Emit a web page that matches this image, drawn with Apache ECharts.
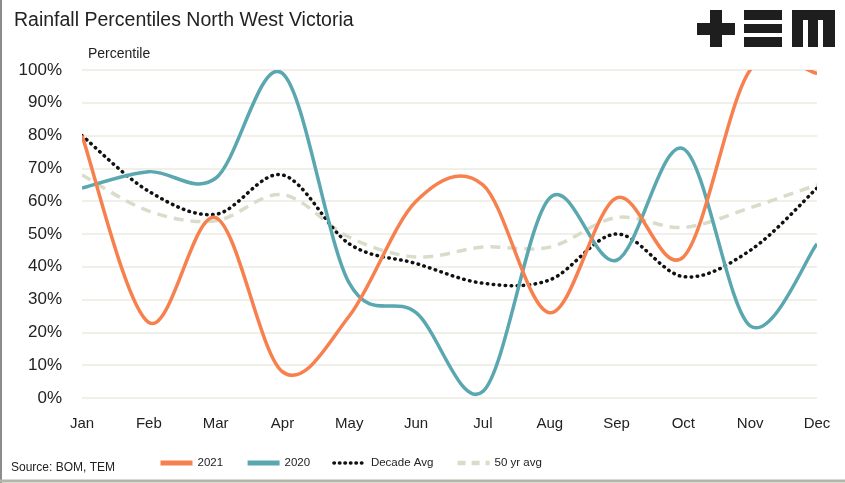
<!DOCTYPE html>
<html>
<head>
<meta charset="utf-8">
<script src="https://cdn.jsdelivr.net/npm/echarts@6/dist/echarts.min.js"></script>
<style>
html,body{margin:0;padding:0;background:#fff;}
#main{width:845px;height:483px;}
</style>
</head>
<body>
<div id="main"></div>
<script>
var months = ['Jan','Feb','Mar','Apr','May','Jun','Jul','Aug','Sep','Oct','Nov','Dec'];
var rain2021 = [80, 23, 55, 8, 25, 60, 65, 26, 61, 43, 100, 99];
var rain2020 = [64, 69, 67, 99, 35, 26, 2, 61, 42, 76, 22, 47];
var decadeAvg = [80, 63, 56, 68, 47, 41, 35, 36, 50, 37, 45, 64];
var fiftyYrAvg = [68, 57, 54, 62, 49, 43, 46, 46, 55, 52, 58, 65];

var font = '"Liberation Sans", sans-serif';
var myChart = echarts.init(document.getElementById('main'));

// excel style smoothed line (catmull-rom as bezier), positioned via the axes
function smoothCurve(name, values, style, z) {
    return {
        name: name, type: 'custom', z: z, silent: true, clip: true,
        data: values.map(function (v, i) { return [i, v]; }),
        renderItem: function (params, api) {
            if (params.dataIndex !== 0) return null;
            var pts = values.map(function (v, i) { return api.coord([i, v]); });
            var d = 'M' + pts[0][0] + ' ' + pts[0][1];
            for (var i = 0; i < pts.length - 1; i++) {
                var p0 = pts[Math.max(i - 1, 0)], p1 = pts[i], p2 = pts[i + 1], p3 = pts[Math.min(i + 2, pts.length - 1)];
                var c1x = p1[0] + (p2[0] - p0[0]) / 6, c1y = p1[1] + (p2[1] - p0[1]) / 6;
                var c2x = p2[0] - (p3[0] - p1[0]) / 6, c2y = p2[1] - (p3[1] - p1[1]) / 6;
                d += ' C' + c1x + ' ' + c1y + ' ' + c2x + ' ' + c2y + ' ' + p2[0] + ' ' + p2[1];
            }
            return {
                type: 'path',
                shape: { pathData: d },
                style: Object.assign({ fill: 'none' }, style)
            };
        }
    };
}

// empty line series only feed the legend icons
function legendLine(name, lineStyle) {
    return { name: name, type: 'line', data: [], symbol: 'none', lineStyle: lineStyle, itemStyle: { color: lineStyle.color } };
}

var option = {
    backgroundColor: '#fff',
    animation: false,
    textStyle: { fontFamily: font },
    title: {
        text: 'Rainfall Percentiles North West Victoria',
        left: 9, top: 6,
        textStyle: { fontSize: 19.5, fontWeight: 'normal', color: '#222', fontFamily: font }
    },
    grid: { left: 82, right: 28, top: 70, bottom: 85 },
    legend: {
        bottom: 9, left: 153,
        itemWidth: 32, itemHeight: 8, itemGap: 22,
        itemStyle: { opacity: 0 },
        textStyle: { fontSize: 11.5, color: '#222' },
        data: [
            { name: '2021', lineStyle: { width: 5 } },
            { name: '2020', lineStyle: { width: 5 } },
            { name: 'Decade Avg', lineStyle: { width: 3.5 } },
            { name: '50 yr avg', lineStyle: { width: 4.5 } }
        ]
    },
    xAxis: {
        type: 'category',
        data: months,
        boundaryGap: false,
        axisLine: { show: false },
        axisTick: { show: false },
        axisLabel: { fontSize: 15, color: '#222', margin: 18 }
    },
    yAxis: {
        type: 'value',
        min: 0, max: 100, interval: 10,
        axisLabel: { formatter: '{value}%', fontSize: 17, color: '#222', margin: 20 },
        splitLine: { lineStyle: { color: '#ebebe0', width: 1.5 } },
        axisLine: { show: false },
        axisTick: { show: false }
    },
    graphic: [
        { type: 'text', left: 88, top: 47, style: { text: 'Percentile', fontSize: 14, fill: '#222', fontFamily: font } },
        { type: 'text', left: 11, top: 462, style: { text: 'Source: BOM, TEM', fontSize: 12, fill: '#222', fontFamily: font } },
        { type: 'line', shape: { x1: 1, y1: 0, x2: 1, y2: 483 }, style: { stroke: '#8c8c8c', lineWidth: 2 } },
        { type: 'line', shape: { x1: 0, y1: 481, x2: 845, y2: 481 }, style: { stroke: '#b5b5aa', lineWidth: 3 } },
        // logo +EM
        { type: 'rect', shape: { x: 697, y: 23, width: 38, height: 12 }, style: { fill: '#1e1e1e' } },
        { type: 'rect', shape: { x: 710, y: 10, width: 12, height: 37 }, style: { fill: '#1e1e1e' } },
        { type: 'rect', shape: { x: 744, y: 10, width: 38, height: 10 }, style: { fill: '#1e1e1e' } },
        { type: 'rect', shape: { x: 744, y: 24, width: 38, height: 9 }, style: { fill: '#1e1e1e' } },
        { type: 'rect', shape: { x: 744, y: 37, width: 38, height: 10 }, style: { fill: '#1e1e1e' } },
        { type: 'rect', shape: { x: 792, y: 10, width: 43, height: 10 }, style: { fill: '#1e1e1e' } },
        { type: 'rect', shape: { x: 792, y: 10, width: 11, height: 37 }, style: { fill: '#1e1e1e' } },
        { type: 'rect', shape: { x: 808, y: 10, width: 10, height: 37 }, style: { fill: '#1e1e1e' } },
        { type: 'rect', shape: { x: 823, y: 10, width: 12, height: 37 }, style: { fill: '#1e1e1e' } }
    ],
    series: [
        legendLine('2021', { color: '#f7814e', width: 5 }),
        legendLine('2020', { color: '#5aa7b0', width: 5 }),
        legendLine('Decade Avg', { color: '#111', width: 3.5, type: [0.5, 5], cap: 'round' }),
        legendLine('50 yr avg', { color: '#d9dcc9', width: 4.5, type: [8, 6] }),
        smoothCurve('c50', fiftyYrAvg, { stroke: '#d9dcc9', lineWidth: 3.5, lineDash: [10, 7] }, 1),
        smoothCurve('cDecade', decadeAvg, { stroke: '#111', lineWidth: 3.5, lineDash: [0.5, 5.5], lineCap: 'round' }, 2),
        smoothCurve('c2020', rain2020, { stroke: '#5aa7b0', lineWidth: 3.5 }, 3),
        smoothCurve('c2021', rain2021, { stroke: '#f7814e', lineWidth: 3.5 }, 4)
    ]
};

myChart.setOption(option);
</script>
</body>
</html>
